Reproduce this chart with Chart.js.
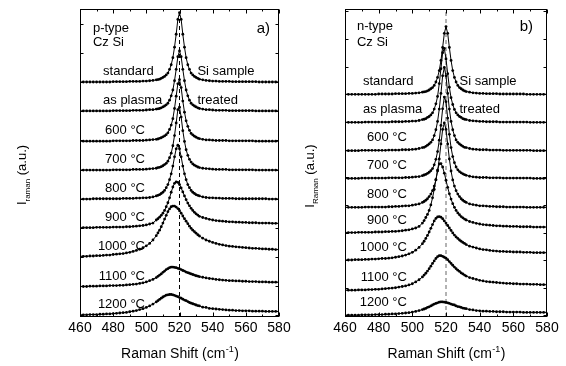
<!DOCTYPE html>
<html>
<head>
<meta charset="utf-8">
<script src="https://cdn.jsdelivr.net/npm/chart.js@4.4.1/dist/chart.umd.min.js"></script>
<style>
  body { margin: 0; background: #fff; width: 566px; height: 366px; position: relative; overflow: hidden; }
  canvas { position: absolute; top: 0; }
  #pChart { left: 0; }
  #nChart { left: 300px; }
</style>
</head>
<body>
<canvas id="pChart" width="300" height="366"></canvas>
<canvas id="nChart" width="266" height="366"></canvas>
<script>
// Raman shift grid (cm-1), shared by every spectrum
const ramanShift = [
  460, 462, 464, 466, 468, 470, 472, 474, 476, 478, 480, 482, 484, 486, 488, 490, 492, 494, 496, 498, 500, 502, 504,
  506, 507, 508, 509, 510, 511, 512, 513, 514, 515, 516, 517, 518, 519, 520, 521, 522, 523, 524, 525, 526, 527, 528, 529, 530, 531, 532,
  534, 536, 538, 540, 542, 544, 546, 548, 550, 552, 554, 556, 558, 560, 562, 564, 566, 568, 570, 572, 574, 576, 578, 580
];

const sampleLabels = ['standard', 'as plasma', '600 °C', '700 °C', '800 °C', '900 °C', '1000 °C', '1100 °C', '1200 °C'];
const sampleNotes = ['Si sample', 'treated'];
const siPeak = 520;
const yRange = [-0.5, 99.5];

// vertical stacking offsets (a.u.), top spectrum first
const pOffsets = [75.8, 66.4, 56.6, 47.2, 37.8, 28.4, 19.0, 9.3, 0];
const nOffsets = [71.8, 62.7, 53.5, 44.5, 35.0, 26.8, 17.8, 8.0, 0];

// a) p-type Cz Si, intensity above each baseline (a.u.)
const pStandard = [0,0,0,0,0,0,0,0,0,0,0.1,0.1,0.1,0.1,0.1,0.2,0.2,0.2,0.2,0.3,0.3,0.4,0.5,
  0.7,0.8,0.9,1.2,1.5,1.8,2.3,2.9,4.1,5.6,7.9,11.3,15.5,20.3,22.5,20.3,15.5,11.3,7.9,5.6,4.1,2.9,2.3,1.8,1.5,1.2,0.9,
  0.7,0.5,0.4,0.3,0.3,0.2,0.2,0.2,0.2,0.1,0.1,0.1,0.1,0.1,0.1,0.1,0.1,0,0,0,0,0,0,0];
const pPlasma = [0,0,0,0,0,0,0,0,0,0,0.1,0.1,0.1,0.1,0.1,0.1,0.2,0.2,0.2,0.2,0.3,0.4,0.4,
  0.6,0.7,0.8,1.0,1.3,1.6,2.0,2.5,3.5,4.9,6.8,9.8,13.5,17.6,19.5,17.6,13.5,9.8,6.8,4.9,3.5,2.5,2.0,1.6,1.3,1.0,0.8,
  0.6,0.4,0.4,0.3,0.2,0.2,0.2,0.2,0.1,0.1,0.1,0.1,0.1,0.1,0.1,0.1,0,0,0,0,0,0,0,0];
const p600 = [0,0,0,0,0,0,0,0,0,0,0.1,0.1,0.1,0.1,0.1,0.1,0.2,0.2,0.2,0.2,0.3,0.4,0.5,
  0.6,0.7,0.9,1.1,1.4,1.7,2.1,2.7,3.8,5.2,7.3,10.6,14.6,18.6,20.0,17.4,13.0,9.4,6.6,4.8,3.5,2.5,2.0,1.6,1.3,1.0,0.8,
  0.6,0.4,0.4,0.3,0.2,0.2,0.2,0.2,0.1,0.1,0.1,0.1,0.1,0.1,0.1,0.1,0,0,0,0,0,0,0,0];
const p700 = [0,0,0,0,0,0,0,0,0,0,0.1,0.1,0.1,0.1,0.1,0.1,0.2,0.2,0.2,0.2,0.3,0.4,0.5,
  0.6,0.8,0.9,1.1,1.4,1.8,2.2,2.9,4.0,5.5,7.9,11.2,15.3,19.6,20.4,17.2,12.8,9.3,6.6,4.8,3.5,2.6,2.0,1.6,1.3,1.0,0.8,
  0.6,0.5,0.4,0.3,0.2,0.2,0.2,0.2,0.1,0.1,0.1,0.1,0.1,0.1,0.1,0.1,0,0,0,0,0,0,0,0];
const p800 = [0,0,0,0,0.1,0.1,0.1,0.1,0.1,0.1,0.1,0.1,0.1,0.2,0.2,0.2,0.2,0.3,0.3,0.4,0.4,0.5,0.7,
  1.0,1.2,1.4,1.8,2.2,2.8,3.7,4.7,6.3,8.2,10.7,13.7,16.3,17.5,16.3,13.7,10.7,8.2,6.3,4.7,3.7,2.8,2.2,1.8,1.4,1.2,1.0,
  0.7,0.5,0.4,0.4,0.3,0.3,0.2,0.2,0.2,0.2,0.1,0.1,0.1,0.1,0.1,0.1,0.1,0.1,0.1,0.1,0,0,0,0];
const p900 = [0.1,0.1,0.1,0.1,0.1,0.2,0.2,0.2,0.2,0.2,0.3,0.3,0.3,0.3,0.4,0.4,0.5,0.6,0.7,0.8,1.0,1.3,1.6,
  2.6,3.0,3.5,4.1,4.8,5.7,6.9,8.2,9.8,11.6,13.3,14.5,15.0,14.8,14.1,13.0,11.7,10.4,9.2,8.1,7.2,6.4,5.7,5.1,4.6,4.2,3.8,
  3.4,3.1,2.8,2.6,2.4,2.3,2.2,2.1,2.0,2.0,1.9,1.9,1.8,1.8,1.7,1.7,1.7,1.6,1.6,1.6,1.6,1.5,1.5,1.5];
const p1000 = [0.2,0.2,0.2,0.3,0.3,0.4,0.4,0.5,0.6,0.6,0.8,0.9,1.0,1.1,1.3,1.5,1.8,2.1,2.5,3.0,3.6,4.4,5.5,
  6.9,7.8,8.7,9.8,11.0,12.3,13.5,14.7,15.6,16.3,16.5,16.5,16.2,15.7,15.0,14.2,13.3,12.4,11.6,10.8,10.0,9.3,8.7,8.2,7.7,7.2,6.8,
  6.1,5.5,5.1,4.7,4.4,4.1,3.9,3.7,3.5,3.4,3.3,3.2,3.1,3.0,2.9,2.8,2.8,2.7,2.6,2.6,2.5,2.5,2.4,2.4];
const p1100 = [0.1,0.1,0.1,0.2,0.2,0.2,0.3,0.3,0.3,0.4,0.4,0.4,0.5,0.5,0.6,0.7,0.8,0.9,1.1,1.3,1.6,2.0,2.4,
  3.0,3.4,3.8,4.2,4.7,5.1,5.6,5.9,6.2,6.4,6.4,6.3,6.2,6.0,5.8,5.6,5.3,5.1,4.8,4.6,4.4,4.2,4.0,3.8,3.6,3.5,3.3,
  3.1,2.9,2.7,2.6,2.4,2.3,2.2,2.1,2.0,2.0,1.9,1.9,1.8,1.8,1.7,1.7,1.7,1.6,1.6,1.6,1.5,1.5,1.5,1.5];
const p1200 = [0.2,0.2,0.2,0.3,0.3,0.3,0.4,0.4,0.5,0.5,0.6,0.7,0.8,0.9,1.0,1.2,1.4,1.6,1.9,2.2,2.6,3.1,3.7,
  4.4,4.8,5.2,5.6,6.0,6.3,6.6,6.7,6.8,6.8,6.7,6.5,6.3,6.1,5.8,5.6,5.3,5.0,4.8,4.5,4.2,4.0,3.8,3.6,3.4,3.2,3.1,
  2.7,2.6,2.3,2.2,2.1,2.0,1.9,1.8,1.7,1.7,1.6,1.6,1.5,1.5,1.5,1.4,1.4,1.4,1.4,1.3,1.3,1.3,1.3,1.3];

// b) n-type Cz Si
const nStandard = [0,0,0,0,0,0,0,0,0,0,0.1,0.1,0.1,0.1,0.1,0.2,0.2,0.2,0.2,0.3,0.3,0.4,0.5,
  0.7,0.8,0.9,1.1,1.4,1.8,2.2,2.9,4.0,5.5,7.7,11.0,15.2,19.8,22.0,19.8,15.2,11.0,7.7,5.5,4.0,2.9,2.2,1.8,1.4,1.1,0.9,
  0.7,0.5,0.4,0.3,0.3,0.2,0.2,0.2,0.2,0.1,0.1,0.1,0.1,0.1,0.1,0.1,0.1,0,0,0,0,0,0,0];
const nPlasma = [0,0,0,0,0,0,0.1,0.1,0.1,0.1,0.1,0.1,0.1,0.1,0.2,0.2,0.2,0.2,0.3,0.3,0.4,0.4,0.6,
  0.9,1.0,1.2,1.6,1.9,2.4,3.1,4.3,6.0,8.4,12.6,17.4,22.6,24.0,20.6,15.8,11.4,8.0,5.8,4.2,3.1,2.4,1.9,1.6,1.2,1.0,0.9,
  0.6,0.5,0.4,0.3,0.3,0.2,0.2,0.2,0.2,0.1,0.1,0.1,0.1,0.1,0.1,0.1,0.1,0.1,0,0,0,0,0,0];
const n600 = [0,0,0,0,0,0.1,0.1,0.1,0.1,0.1,0.1,0.1,0.1,0.2,0.2,0.2,0.2,0.3,0.3,0.3,0.4,0.5,0.7,
  1.0,1.1,1.4,1.8,2.2,2.7,3.5,4.9,6.8,9.5,13.5,18.6,24.3,27.0,24.3,18.6,13.5,9.5,6.8,4.9,3.5,2.7,2.2,1.8,1.4,1.1,1.0,
  0.7,0.5,0.4,0.3,0.3,0.3,0.2,0.2,0.2,0.2,0.1,0.1,0.1,0.1,0.1,0.1,0.1,0.1,0.1,0,0,0,0,0];
const n700 = [0,0,0,0,0,0.1,0.1,0.1,0.1,0.1,0.1,0.1,0.1,0.2,0.2,0.2,0.2,0.2,0.3,0.3,0.4,0.5,0.6,
  0.9,1.1,1.3,1.6,2.0,2.5,3.2,4.4,6.2,8.7,12.4,17.2,22.6,26.4,24.9,19.6,14.3,10.0,7.1,5.1,3.7,2.8,2.2,1.8,1.5,1.2,1.0,
  0.7,0.5,0.4,0.3,0.3,0.3,0.2,0.2,0.2,0.2,0.1,0.1,0.1,0.1,0.1,0.1,0.1,0.1,0.1,0,0,0,0,0];
const n800 = [0.1,0.1,0.1,0.1,0.1,0.1,0.2,0.2,0.2,0.2,0.2,0.2,0.2,0.3,0.3,0.4,0.4,0.5,0.6,0.6,0.8,1.0,1.2,
  1.7,2.0,2.4,2.9,3.6,4.4,5.5,7.0,9.0,11.9,15.8,20.7,25.4,27.5,25.4,20.7,15.8,11.9,9.0,7.0,5.5,4.4,3.6,2.9,2.4,2.0,1.7,
  1.2,1.0,0.8,0.6,0.6,0.5,0.4,0.4,0.3,0.3,0.3,0.2,0.2,0.2,0.2,0.2,0.2,0.1,0.1,0.1,0.1,0.1,0.1,0.1];
const n900 = [0.1,0.1,0.1,0.1,0.2,0.2,0.2,0.2,0.2,0.3,0.3,0.3,0.4,0.4,0.5,0.5,0.6,0.7,0.9,1.0,1.3,1.6,2.1,
  3.2,4.0,5.0,6.0,7.3,9.1,11.4,14.1,17.3,20.4,22.4,22.5,21.4,19.4,17.1,14.8,12.7,11.0,9.5,8.3,7.3,6.5,5.9,5.3,4.9,4.5,4.2,
  3.7,3.4,3.1,2.9,2.7,2.6,2.5,2.4,2.3,2.3,2.2,2.2,2.1,2.1,2.1,2.0,2.0,2.0,2.0,1.9,1.9,1.9,1.9,1.9];
const n1000 = [0.2,0.2,0.2,0.3,0.3,0.3,0.4,0.4,0.5,0.5,0.6,0.7,0.7,0.8,0.9,1.1,1.3,1.5,1.8,2.2,2.7,3.4,4.3,
  5.5,6.3,7.2,8.2,9.3,10.5,11.7,12.9,13.7,14.2,14.3,14.1,13.6,12.9,12.2,11.4,10.6,9.8,9.0,8.3,7.7,7.2,6.7,6.3,5.9,5.6,5.2,
  4.7,4.4,4.1,3.8,3.6,3.5,3.3,3.2,3.1,3.0,3.0,2.9,2.9,2.8,2.8,2.8,2.7,2.7,2.7,2.6,2.6,2.6,2.6,2.6];
const n1100 = [0.2,0.2,0.2,0.2,0.3,0.3,0.3,0.4,0.4,0.5,0.5,0.6,0.7,0.8,0.9,1.0,1.2,1.4,1.6,1.9,2.3,2.9,3.6,
  4.5,5.1,5.7,6.4,7.2,8.0,8.9,9.7,10.5,11.1,11.4,11.4,11.2,10.9,10.6,10.1,9.5,8.9,8.3,7.7,7.2,6.7,6.3,5.8,5.5,5.1,4.8,
  4.3,4.0,3.7,3.4,3.2,3.0,2.9,2.8,2.7,2.6,2.5,2.4,2.4,2.3,2.3,2.2,2.2,2.2,2.1,2.1,2.1,2.0,2.0,2.0];
const n1200 = [0.1,0.1,0.1,0.1,0.1,0.2,0.2,0.2,0.2,0.3,0.3,0.3,0.4,0.4,0.5,0.5,0.6,0.7,0.8,0.9,1.1,1.3,1.6,
  1.9,2.1,2.3,2.6,2.8,3.1,3.4,3.7,3.9,4.1,4.3,4.4,4.4,4.3,4.2,4.1,3.9,3.7,3.5,3.4,3.1,2.9,2.8,2.6,2.4,2.3,2.2,
  1.9,1.8,1.6,1.5,1.4,1.4,1.3,1.3,1.2,1.2,1.2,1.1,1.1,1.1,1.1,1.1,1.0,1.0,1.0,1.0,1.0,1.0,1.0,1.0];

const pSeries = [pStandard, pPlasma, p600, p700, p800, p900, p1000, p1100, p1200];
const nSeries = [nStandard, nPlasma, n600, n700, n800, n900, n1000, n1100, n1200];

const FONT = '"Liberation Sans", Arial, Helvetica, sans-serif';
Chart.defaults.font.family = FONT;
Chart.defaults.color = '#000';

function buildDatasets(series, offsets, dashColor) {
  const sets = series.map((s, i) => ({
    label: sampleLabels[i],
    data: ramanShift.map((x, j) => ({ x: x, y: offsets[i] + s[j] })),
    borderColor: '#000',
    borderWidth: 1,
    pointRadius: 1.4,
    pointBorderWidth: 0,
    pointBackgroundColor: '#000',
    tension: 0
  }));
  // dashed line at the crystalline Si peak
  sets.push({
    label: 'c-Si',
    data: [{ x: siPeak, y: yRange[0] }, { x: siPeak, y: yRange[1] }],
    borderColor: dashColor,
    borderWidth: 1,
    borderDash: [4, 3],
    pointRadius: 0
  });
  return sets;
}

// frame, inside ticks, sample names and axis titles
const panelDecor = {
  id: 'panelDecor',
  afterDraw(chart, args, o) {
    const { ctx, chartArea: a, scales: { x, y } } = chart;
    const L = Math.round(a.left) + 0.5, R = Math.round(a.right) - 0.5;
    const T = Math.round(a.top) + 0.5, B = Math.round(a.bottom) - 0.5;
    ctx.save();
    ctx.strokeStyle = '#000';
    ctx.lineWidth = 1;
    ctx.strokeRect(L, T, R - L, B - T);

    ctx.beginPath();
    x.ticks.forEach(t => {
      const px = Math.round(x.getPixelForValue(t.value)) + 0.5;
      ctx.moveTo(px, B); ctx.lineTo(px, B - 4);
      ctx.moveTo(px, T); ctx.lineTo(px, T + 4);
      if (t.value + 10 < x.max) {
        const mx = Math.round(x.getPixelForValue(t.value + 10)) + 0.5;
        ctx.moveTo(mx, B); ctx.lineTo(mx, B - 2);
        ctx.moveTo(mx, T); ctx.lineTo(mx, T + 2);
      }
    });
    const step = (o.offsets[0] - o.offsets[o.offsets.length - 1]) / (o.offsets.length - 1);
    for (let v = 0; v < y.max; v += step) {
      const py = Math.round(y.getPixelForValue(v)) + 0.5;
      ctx.moveTo(L, py); ctx.lineTo(L + 3, py);
      ctx.moveTo(R, py); ctx.lineTo(R - 3, py);
    }
    ctx.stroke();

    ctx.fillStyle = '#000';
    ctx.textBaseline = 'middle';
    ctx.font = '13px ' + FONT;
    ctx.textAlign = 'left';
    o.typeLines.forEach((s, i) => ctx.fillText(s, x.getPixelForValue(o.typeX), y.getPixelForValue(o.typeY[i])));

    sampleLabels.forEach((s, i) => {
      const py = y.getPixelForValue(o.offsets[i] + o.lift);
      if (i < sampleNotes.length) {
        ctx.textAlign = 'left';
        ctx.fillText(s, x.getPixelForValue(o.nameX), py);
        ctx.fillText(sampleNotes[i], x.getPixelForValue(o.noteX), py);
      } else {
        ctx.textAlign = 'right';
        ctx.fillText(s, x.getPixelForValue(o.tempX), py);
      }
    });

    ctx.font = '15px ' + FONT;
    ctx.textAlign = 'right';
    ctx.fillText(o.tag, x.getPixelForValue(o.tagX), y.getPixelForValue(o.tagY));

    // x title with superscript
    ctx.textBaseline = 'alphabetic';
    ctx.textAlign = 'left';
    const main = 'Raman Shift (cm', sup = '-1', close = ')';
    ctx.font = '14px ' + FONT;
    const w1 = ctx.measureText(main).width, w3 = ctx.measureText(close).width;
    ctx.font = '9px ' + FONT;
    const w2 = ctx.measureText(sup).width;
    let tx = (a.left + a.right) / 2 - (w1 + w2 + w3) / 2;
    const ty = a.bottom + 41;
    ctx.font = '14px ' + FONT;
    ctx.fillText(main, tx, ty);
    ctx.font = '9px ' + FONT;
    ctx.fillText(sup, tx + w1 + 0.5, ty - 6);
    ctx.font = '14px ' + FONT;
    ctx.fillText(close, tx + w1 + w2 + 1, ty);

    // y title with subscript, rotated
    ctx.translate(o.yTitleX, o.yTitleY);
    ctx.rotate(-Math.PI / 2);
    const parts = [['I', 13, 0], [o.sub, 8, 4], [' (a.u.)', 13, 0]];
    let total = 0;
    parts.forEach(p => { ctx.font = p[1] + 'px ' + FONT; total += ctx.measureText(p[0]).width; });
    let px = -total / 2;
    parts.forEach(p => {
      ctx.font = p[1] + 'px ' + FONT;
      ctx.fillText(p[0], px, p[2]);
      px += ctx.measureText(p[0]).width;
    });
    ctx.restore();
  }
};

function makeChart(id, series, offsets, yAxisWidth, padRight, decor) {
  return new Chart(document.getElementById(id), {
    type: 'line',
    data: { datasets: buildDatasets(series, offsets, decor.dashColor) },
    options: {
      responsive: false,
      animation: false,
      devicePixelRatio: 1,
      layout: { padding: { left: 0, right: padRight, top: 9, bottom: 0 } },
      plugins: {
        legend: { display: false },
        tooltip: { enabled: false },
        panelDecor: Object.assign({ offsets: offsets }, decor)
      },
      scales: {
        x: {
          type: 'linear', min: 460, max: 580,
          grid: { display: false, drawTicks: false },
          border: { display: false },
          ticks: { stepSize: 20, font: { size: 14 }, color: '#000', padding: 3, maxRotation: 0, autoSkip: false },
          afterFit: s => { s.height = 49; }
        },
        y: {
          type: 'linear', min: yRange[0], max: yRange[1],
          grid: { display: false, drawTicks: false },
          border: { display: false },
          ticks: { display: false },
          afterFit: s => { s.width = yAxisWidth; }
        }
      }
    },
    plugins: [panelDecor]
  });
}

makeChart('pChart', pSeries, pOffsets, 80, 21, {
  dashColor: '#000', typeLines: ['p-type', 'Cz Si'], typeX: 467.8, typeY: [93.3, 88.5],
  tag: 'a)', tagX: 574.6, tagY: 93.0, lift: 3.5, nameX: 473.9, noteX: 530.8, tempX: 499.2,
  sub: 'raman', yTitleX: 25.5, yTitleY: 175
});
makeChart('nChart', nSeries, nOffsets, 45, 19, {
  dashColor: '#666', typeLines: ['n-type', 'Cz Si'], typeX: 467.1, typeY: [93.7, 88.8],
  tag: 'b)', tagX: 571.7, tagY: 93.7, lift: 4.2, nameX: 470.7, noteX: 528.0, tempX: 496.8,
  sub: 'Raman', yTitleX: 14, yTitleY: 176
});
</script>
</body>
</html>
